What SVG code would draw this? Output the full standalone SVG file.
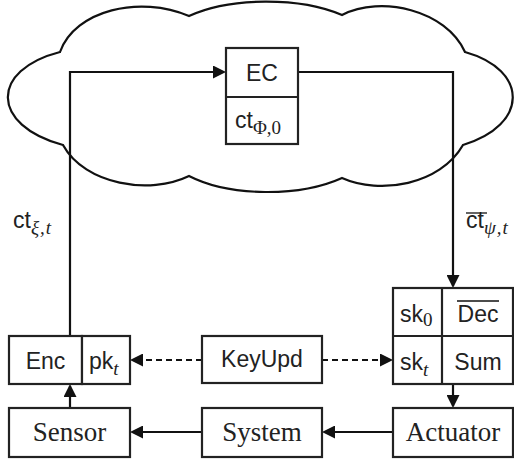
<svg xmlns="http://www.w3.org/2000/svg" width="514" height="464" viewBox="0 0 514 464">
<defs>
<marker id="ah" markerUnits="userSpaceOnUse" markerWidth="14" markerHeight="13" refX="11" refY="6.5" orient="auto">
<path d="M0,0 L13,6.5 L0,13 z" fill="#111"/>
</marker>
</defs>
<style>
.box{fill:#fff;stroke:#222;stroke-width:2.2}
.ln{fill:none;stroke:#111;stroke-width:2.2}
.con{fill:none;stroke:#111;stroke-width:2.2;marker-end:url(#ah)}
.dash{stroke-dasharray:6 4}
.sans{font-family:"Liberation Sans","DejaVu Sans",sans-serif;font-size:23px;fill:#222}
.serif{font-family:"Liberation Serif","DejaVu Serif",serif;font-size:27px;fill:#222}
.sub{font-family:"Liberation Serif","DejaVu Serif",serif;font-size:19px;fill:#222}
.it{font-style:italic}
</style>
<rect width="514" height="464" fill="#fff"/>
<g id="cloud">
<path class="ln" d="M63 145 C-10 125 -10 70 60 52 C75 10 140 -5 189 16 C230 -3 300 -3 342 15 C381 -5 446 10 465 52 C529 70 529 125 463 145 C440 185 380 195 342 178 C300 197 230 197 189 176 C150 195 85 185 63 145 Z"/>
</g>
<g id="connectors">
<path class="con" d="M70 336 V72 H224"/>
<path class="con" d="M298 72 H453 V286"/>
<path class="con" d="M70 408 V386"/>
<path class="con" d="M453 384 V406"/>
<path class="con" d="M393 432 H324"/>
<path class="con" d="M202 432 H132"/>
<path class="con dash" d="M202 360 H132"/>
<path class="con dash" d="M322 360 H391"/>
</g>
<g id="labels">
<text x="13" y="228" class="sans">ct<tspan class="sub it" dy="6" letter-spacing="1">ξ,t</tspan></text>
<text x="466" y="228" class="sans">ct<tspan class="sub it" dy="6" letter-spacing="1">ψ,t</tspan></text>
<line class="ln" x1="466" y1="213" x2="487" y2="213" style="stroke-width:1.3"/>
</g>
<g id="EC">
<rect class="box" x="226" y="48" width="72" height="96"/>
<line class="ln" x1="226" y1="97" x2="298" y2="97" style="stroke:#222"/>
<text x="262" y="81" class="sans" text-anchor="middle">EC</text>
<text x="235" y="128" class="sans">ct<tspan class="sub" dy="6">Φ,0</tspan></text>
</g>
<g id="Enc">
<rect class="box" x="9" y="336" width="73" height="48"/>
<text x="45.5" y="369" class="sans" text-anchor="middle">Enc</text>
</g>
<g id="pk">
<rect class="box" x="82" y="336" width="48" height="48"/>
<text x="89" y="369" class="sans">pk<tspan class="sub it" dy="6">t</tspan></text>
</g>
<g id="KeyUpd">
<rect class="box" x="202" y="336" width="120" height="47"/>
<text x="262" y="367" class="sans" text-anchor="middle">KeyUpd</text>
</g>
<g id="Keys">
<rect class="box" x="393" y="288" width="120" height="96"/>
<line class="ln" x1="442" y1="288" x2="442" y2="384" style="stroke:#222"/>
<line class="ln" x1="393" y1="336" x2="513" y2="336" style="stroke:#222"/>
<text x="400" y="322" class="sans">sk<tspan class="sub" dy="4">0</tspan></text>
<text x="478" y="322" class="sans" text-anchor="middle">Dec</text>
<line class="ln" x1="457" y1="301" x2="499" y2="301" style="stroke-width:1.3"/>
<text x="400" y="370" class="sans">sk<tspan class="sub it" dy="6">t</tspan></text>
<text x="478" y="370" class="sans" text-anchor="middle">Sum</text>
</g>
<g id="Sensor">
<rect class="box" x="9" y="408" width="121" height="49"/>
<text x="69.5" y="441" class="serif" text-anchor="middle">Sensor</text>
</g>
<g id="System">
<rect class="box" x="202" y="408" width="120" height="49"/>
<text x="262" y="441" class="serif" text-anchor="middle">System</text>
</g>
<g id="Actuator">
<rect class="box" x="393" y="408" width="120" height="49"/>
<text x="453" y="441" class="serif" text-anchor="middle">Actuator</text>
</g>
</svg>
